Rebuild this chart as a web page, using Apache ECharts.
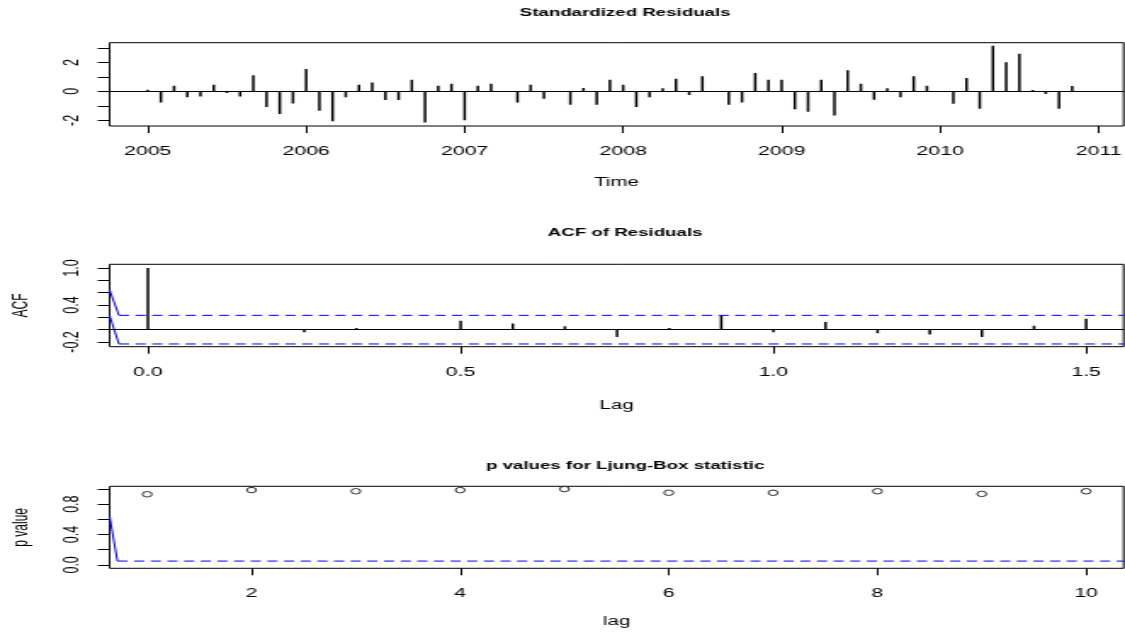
<!DOCTYPE html>
<html><head><meta charset="utf-8">
<script src="https://cdn.jsdelivr.net/npm/echarts@6/dist/echarts.min.js"></script>
<style>
html,body{margin:0;padding:0;background:#fff;overflow:hidden;}
#wrap{width:1125px;height:632px;overflow:hidden;position:relative;}
#chart{width:662px;height:632px;transform:scaleX(1.6994);transform-origin:0 0;}
</style></head><body>
<div id="wrap"><div id="chart"></div></div>
<script>
// ---------- data ----------
const residStartYear = 2005;          // monthly series starting Jan 2005
const stdResid = [
  0.12,-0.76, 0.39,-0.41,-0.35, 0.46,-0.12,-0.35, 1.11,-1.08,-1.56,-0.83,   // 2005
  1.54,-1.34,-2.07,-0.41, 0.46, 0.62,-0.60,-0.60, 0.81,-2.14, 0.39, 0.53,   // 2006
 -2.00, 0.39, 0.53, 0.02,-0.76, 0.46,-0.51,-0.03,-0.92, 0.23,-0.92, 0.81,   // 2007
  0.46,-1.08,-0.41, 0.21, 0.88,-0.25, 1.04, 0.03,-0.92,-0.76, 1.27, 0.81,   // 2008
  0.81,-1.24,-1.41, 0.81,-1.66, 1.45, 0.53,-0.58, 0.21,-0.41, 1.04, 0.38,   // 2009
  0.02,-0.86, 0.93,-1.20, 3.15, 2.01, 2.59, 0.10,-0.18,-1.20, 0.37          // 2010
];
const timeTicks = [2005, 2006, 2007, 2008, 2009, 2010, 2011];
const residYTicks = [-2, -1, 0, 1, 2, 3];
const residYLabels = [-2, 0, 2];

const acfLagMonths = [0,1,2,3,4,5,6,7,8,9,10,11,12,13,14,15,16,17,18];
const acfValues = [1.0, 0.005,-0.005,-0.04, 0.027, 0.005, 0.146, 0.10, 0.054,-0.12,
                   0.027, 0.228,-0.043, 0.125,-0.06,-0.08,-0.12, 0.065, 0.175];
const acfBound = 0.232;
const acfXTicks = [0.0, 0.5, 1.0, 1.5];
const acfYTicks = [-0.2, 0.0, 0.2, 0.4, 0.6, 0.8, 1.0];
const acfYLabels = [-0.2, 0.4, 1.0];
const acfSlant1 = [[-0.0612, 0.643], [-0.0463, 0.232]];
const acfSlant2 = [[-0.0612, 0.227], [-0.0463, -0.232]];
const acfDashStart = -0.0463;

const lbLags = [1,2,3,4,5,6,7,8,9,10];
const lbPValues = [0.93, 0.985, 0.97, 0.985, 0.998, 0.95, 0.95, 0.97, 0.935, 0.97];
const lbLevel = 0.05;
const lbXTicks = [2, 4, 6, 8, 10];
const lbYTicks = [0.0, 0.2, 0.4, 0.6, 0.8, 1.0];
const lbYLabels = [0.0, 0.4, 0.8];
const lbSlant = [[0.64, 0.64], [0.715, 0.05]];
const lbDashStart = 0.715;

// ---------- chart ----------
const FONT = "'Liberation Sans', Arial, Helvetica, sans-serif";
const BLUE = '#0000ff';
const GRID_LEFT = 64.5;
const xr = [[2004.760, 2011.158], [-0.0612, 1.560], [0.64, 10.36]];
const yr = [[-2.39, 3.36], [-0.276, 1.059], [-0.045, 1.035]];

const grids = [
  {top: 42.7, height: 83.3},
  {top: 264.3, height: 82.4},
  {top: 486.3, height: 82}
].map(g => Object.assign({left: GRID_LEFT, right: 0.8, show: true, borderColor: '#000', borderWidth: 1,
  backgroundColor: 'transparent', containLabel: false, outerBoundsMode: 'none'}, g));

const tickStyle = {show: true, length: 7, inside: false, lineStyle: {color: '#000', width: 1}};
const labelStyle = {color: '#000', fontSize: 12.5, fontFamily: FONT};
const nameStyle = {color: '#000', fontSize: 12, fontFamily: FONT};

function xAxis(i, ticks, fmt, name, gap) {
  return {
    type: 'value', gridIndex: i, min: xr[i][0], max: xr[i][1], position: 'bottom',
    axisLine: {show: false, onZero: false}, splitLine: {show: false},
    axisTick: Object.assign({customValues: ticks}, tickStyle),
    axisLabel: Object.assign({customValues: ticks, margin: 19, formatter: fmt}, labelStyle),
    name: name, nameLocation: 'middle', nameGap: gap, nameTextStyle: nameStyle
  };
}
function yAxis(i, ticks, name) {
  return {
    type: 'value', gridIndex: i, min: yr[i][0], max: yr[i][1], position: 'left',
    axisLine: {show: false, onZero: false}, splitLine: {show: false},
    axisTick: Object.assign({customValues: ticks}, tickStyle),
    axisLabel: {show: false},
    name: name, nameLocation: 'middle', nameGap: 46, nameRotate: 90, nameTextStyle: nameStyle
  };
}
const f1 = v => v.toFixed(1);
const f0 = v => String(Math.round(v));

const residData = stdResid.map((v, i) => [residStartYear + i / 12, v]);
const acfData = acfLagMonths.map((m, i) => [m / 12, acfValues[i]]);
const lbData = lbLags.map((l, i) => [l, lbPValues[i]]);

const zeroLine = {
  silent: true, symbol: ['none', 'none'], label: {show: false},
  lineStyle: {color: '#000', width: 1, type: 'solid'},
  data: [{yAxis: 0}]
};
function stickSeries(i, data) {
  return {
    type: 'custom', xAxisIndex: i, yAxisIndex: i, data: data, silent: true, clip: true,
    encode: {x: 0, y: 1},
    renderItem: function (params, api) {
      const p0 = api.coord([api.value(0), 0]);
      const p1 = api.coord([api.value(0), api.value(1)]);
      return {type: 'line', shape: {x1: p0[0], y1: p0[1], x2: p1[0], y2: p1[1]},
              style: {stroke: '#000', lineWidth: 1.5}};
    },
    markLine: zeroLine
  };
}
const dashStyle = {color: BLUE, width: 1, type: [6, 3.8]};
function lineSeries(xi, data, style) {
  return {type: 'line', xAxisIndex: xi, yAxisIndex: xi, data: data, symbol: 'none',
          lineStyle: style, silent: true, clip: true, z: 3};
}

const titleStyle = {color: '#000', fontSize: 11, fontWeight: 'bold', fontFamily: FONT};
const cx = GRID_LEFT + (662 - GRID_LEFT - 0.8) / 2;

const option = {
  animation: false,
  backgroundColor: '#fff',
  title: [
    {text: 'Standardized Residuals', left: cx, top: 2, textAlign: 'center', textStyle: titleStyle},
    {text: 'ACF of Residuals', left: cx, top: 222, textAlign: 'center', textStyle: titleStyle},
    {text: 'p values for Ljung-Box statistic', left: cx, top: 455, textAlign: 'center', textStyle: titleStyle}
  ],
  grid: grids,
  xAxis: [
    xAxis(0, timeTicks, f0, 'Time', 51),
    xAxis(1, acfXTicks, f1, 'Lag', 53),
    xAxis(2, lbXTicks, f0, 'lag', 47)
  ],
  yAxis: [
    yAxis(0, residYTicks, ''),
    yAxis(1, acfYTicks, 'ACF'),
    yAxis(2, lbYTicks, 'p value')
  ],
  series: [
    stickSeries(0, residData),
    stickSeries(1, acfData),
    lineSeries(1, [[acfDashStart, acfBound], [xr[1][1], acfBound]], dashStyle),
    lineSeries(1, [[acfDashStart, -acfBound], [xr[1][1], -acfBound]], dashStyle),
    lineSeries(1, acfSlant1, {color: BLUE, width: 1}),
    lineSeries(1, acfSlant2, {color: BLUE, width: 1}),
    lineSeries(2, [[lbDashStart, lbLevel], [xr[2][1], lbLevel]], dashStyle),
    lineSeries(2, lbSlant, {color: BLUE, width: 1}),
    {type: 'scatter', xAxisIndex: 2, yAxisIndex: 2, data: lbData, symbol: 'circle', symbolSize: 5.5,
     itemStyle: {color: '#fff', borderColor: '#000', borderWidth: 1}, silent: true, z: 4}
  ]
};
const chart = echarts.init(document.getElementById('chart'), null, {renderer: 'canvas'});
chart.setOption(option);

// rotated y tick labels (R style, reading upwards), placed through the axes' own scales
const yLabelSets = [[0, residYLabels, f0], [1, acfYLabels, f1], [2, lbYLabels, f1]];
const labelEls = [];
yLabelSets.forEach(function (set) {
  set[1].forEach(function (v) {
    const py = chart.convertToPixel({yAxisIndex: set[0]}, v);
    labelEls.push({
      type: 'text', x: GRID_LEFT - 21.5, y: py, rotation: Math.PI / 2, silent: true,
      style: {text: set[2](v), fill: '#000', fontSize: 12.5, fontFamily: FONT,
              align: 'center', verticalAlign: 'middle'}
    });
  });
});
chart.setOption({graphic: labelEls});
</script>
</body></html>
